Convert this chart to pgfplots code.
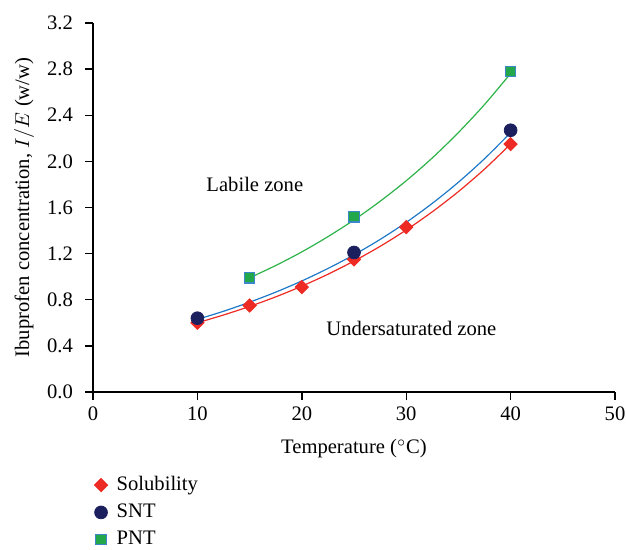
\documentclass[border=0pt]{standalone}
\usepackage{pgfplots}
\pgfplotsset{compat=1.18}
\usepackage{fontspec}
\setmainfont{Liberation Serif}
\definecolor{solred}{HTML}{EE2A24}
\definecolor{sntnavy}{HTML}{1B1F5E}
\definecolor{pntgreen}{HTML}{22A84A}
\definecolor{pntedge}{HTML}{3B87C8}
\definecolor{blueline}{HTML}{1F78C8}
\definecolor{greenline}{HTML}{2EB24A}
\begin{document}
\begin{tikzpicture}
\begin{axis}[
  width=261pt, height=184.5pt, scale only axis,
  xmin=0, xmax=50, ymin=0, ymax=3.2,
  xtick={0,10,20,30,40,50},
  ytick={0,0.4,0.8,1.2,1.6,2.0,2.4,2.8,3.2},
  yticklabel style={/pgf/number format/fixed,/pgf/number format/fixed zerofill,/pgf/number format/precision=1, xshift=-2.5pt},
  /pgf/number format/assume math mode=true,
  axis x line=bottom, axis y line=left, axis line style={-, line width=0.7pt},
  tick align=outside, tick style={black, line width=0.7pt}, major tick length=4pt,
  font=\fontsize{10.3}{12}\selectfont,
  xlabel={Temperature ($^{\circ}$C)},
  ylabel={Ibuprofen concentration, $I/E$ (w/w)},
  xlabel style={at={(axis description cs:0.5,0)}, anchor=center, yshift=-28.5pt},
  ylabel style={at={(axis description cs:-0.132,0.5)}, anchor=center},
  legend style={at={(rel axis cs:0,-0.206)}, anchor=north west, xshift=-2.5pt, draw=none, fill=none, row sep=1.2pt, column sep=2.5pt, font=\fontsize{10.3}{12}\selectfont},
  legend cell align=left,
]
% trend curves
\addplot[solred, line width=0.6pt, smooth, forget plot] coordinates {
(10,0.600) (12.5,0.668) (15,0.742) (17.5,0.825) (20,0.918) (22.5,1.021) (25,1.136) (27.5,1.263) (30,1.405) (32.5,1.563) (35,1.738) (37.5,1.933) (40,2.150)};
\addplot[blueline, line width=0.6pt, smooth, forget plot] coordinates {
(10,0.630) (12.5,0.700) (15,0.779) (17.5,0.866) (20,0.963) (22.5,1.071) (25,1.190) (27.5,1.323) (30,1.471) (32.5,1.636) (35,1.819) (37.5,2.023) (40,2.249)};
\addplot[greenline, line width=0.6pt, smooth, forget plot] coordinates {
(15,0.990) (17.5,1.097) (20,1.215) (22.5,1.347) (25,1.492) (27.5,1.654) (30,1.832) (32.5,2.030) (35,2.250) (37.5,2.493) (40,2.762)};
% data
\addplot[only marks, mark=square*, mark size=2.35pt, color=solred, mark options={fill=solred, draw=solred, rotate=45}] coordinates {
(10,0.60) (15,0.75) (20,0.91) (25,1.15) (30,1.43) (40,2.15)};
\addlegendentry{Solubility}
\addplot[only marks, mark=*, mark size=3.2pt, color=sntnavy, mark options={fill=sntnavy, draw=sntnavy}] coordinates {
(10,0.64) (25,1.21) (40,2.27)};
\addlegendentry{SNT}
\addplot[only marks, mark=square*, mark size=2.6pt, color=pntedge, mark options={fill=pntgreen, draw=pntedge, line width=0.6pt}] coordinates {
(15,0.99) (25,1.52) (40,2.78)};
\addlegendentry{PNT}
\node at (axis cs:15.5,1.80) {Labile zone};
\node at (axis cs:30.5,0.555) {Undersaturated zone};
\end{axis}
\pgfresetboundingbox
\path[use as bounding box] ([xshift=-46.5pt,yshift=-78.5pt]current axis.south west) rectangle ([xshift=5.5pt,yshift=11.5pt]current axis.north east);
\end{tikzpicture}
\end{document}
